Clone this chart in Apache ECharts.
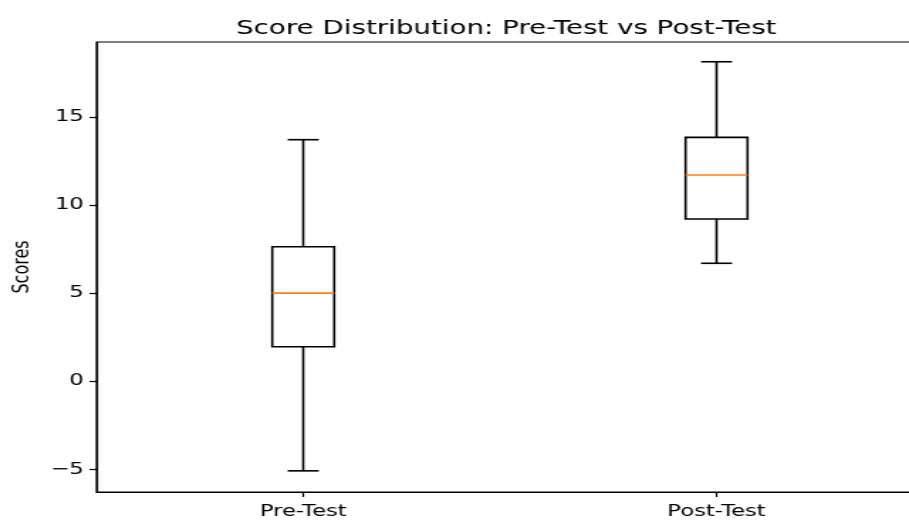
<!DOCTYPE html>
<html>
<head>
<meta charset="utf-8">
<script src="https://cdn.jsdelivr.net/npm/echarts@6/dist/echarts.min.js"></script>
<style>
  html, body { margin: 0; padding: 0; background: #fff; overflow: hidden; }
  #wrap { width: 909px; height: 520px; overflow: hidden; position: relative; }
  /* The reference figure is horizontally stretched; reproduce by scaling the chart box */
  #chart { width: 713px; height: 520px; transform: scaleX(1.4203); transform-origin: 0 0; }
</style>
</head>
<body>
<div id="wrap"><div id="chart"></div></div>
<script>
// ---- data ----
const categories = ['Pre-Test', 'Post-Test'];
// [whisker low, Q1, median, Q3, whisker high]
const preTest  = [-5.08, 1.96, 5.00, 7.63, 13.70];
const postTest = [6.69, 9.20, 11.70, 13.83, 18.12];
const yTicks = [-5, 0, 5, 10, 15];
const titleText = 'Score Distribution: Pre-Test vs Post-Test';
const yName = 'Scores';

const seriesData = [preTest, postTest].map((s, i) => [i].concat(s));

const FONT = 'DejaVu Sans';

function renderItem(params, api) {
  const x = api.value(0);
  const lo = api.coord([x, api.value(1)]);
  const q1 = api.coord([x, api.value(2)]);
  const md = api.coord([x, api.value(3)]);
  const q3 = api.coord([x, api.value(4)]);
  const hi = api.coord([x, api.value(5)]);
  const band = api.size([1, 0])[0];
  const bw = band * 0.15;
  const cw = bw * 0.5;
  const cx = lo[0];
  const st = { stroke: '#000', lineWidth: 1.6, fill: null };
  return {
    type: 'group',
    children: [
      { type: 'line', shape: { x1: cx, y1: q1[1], x2: cx, y2: lo[1] }, style: st },
      { type: 'line', shape: { x1: cx, y1: q3[1], x2: cx, y2: hi[1] }, style: st },
      { type: 'line', shape: { x1: cx - cw / 2, y1: lo[1], x2: cx + cw / 2, y2: lo[1] }, style: st },
      { type: 'line', shape: { x1: cx - cw / 2, y1: hi[1], x2: cx + cw / 2, y2: hi[1] }, style: st },
      { type: 'rect', shape: { x: cx - bw / 2, y: q3[1], width: bw, height: q1[1] - q3[1] }, style: { stroke: '#000', lineWidth: 1.6, fill: 'rgba(0,0,0,0)' } },
      { type: 'line', shape: { x1: cx - bw / 2, y1: md[1], x2: cx + bw / 2, y2: md[1] }, style: { stroke: '#ff7f0e', lineWidth: 1.6 } }
    ]
  };
}

const chart = echarts.init(document.getElementById('chart'), null, { renderer: 'canvas' });
chart.setOption({
  animation: false,
  backgroundColor: '#fff',
  title: {
    text: titleText,
    left: 'center',
    top: 19,
    padding: 0,
    textStyle: { fontFamily: FONT, fontSize: 19.5, fontWeight: 'normal', color: '#000' }
  },
  grid: {
    left: 63.5, top: 42, width: 586.5, height: 450,
    show: true, borderColor: '#000', borderWidth: 1.2, backgroundColor: 'transparent'
  },
  xAxis: {
    type: 'category',
    data: categories,
    boundaryGap: true,
    axisLine: { show: true, onZero: false, lineStyle: { color: '#000', width: 1.2 } },
    axisTick: { show: true, alignWithLabel: true, length: 5, lineStyle: { color: '#000', width: 1.2 } },
    axisLabel: { margin: 12, color: '#000', fontFamily: FONT, fontSize: 16 },
    splitLine: { show: false }
  },
  yAxis: {
    type: 'value',
    min: -6.28,
    max: 19.24,
    name: yName,
    nameLocation: 'middle',
    nameGap: 44,
    nameRotate: 90,
    nameTextStyle: { fontFamily: FONT, fontSize: 16, color: '#000' },
    axisLine: { show: true, lineStyle: { color: '#000', width: 1.2 } },
    axisTick: { show: true, length: 5, customValues: yTicks, lineStyle: { color: '#000', width: 1.2 } },
    axisLabel: {
      customValues: yTicks, margin: 9, color: '#000', fontFamily: FONT, fontSize: 16,
      formatter: v => String(v).replace('-', '\u2212')
    },
    splitLine: { show: false }
  },
  series: [{
    type: 'custom',
    renderItem: renderItem,
    encode: { x: 0, y: [1, 2, 3, 4, 5] },
    data: seriesData,
    clip: false
  }]
});
</script>
</body>
</html>
